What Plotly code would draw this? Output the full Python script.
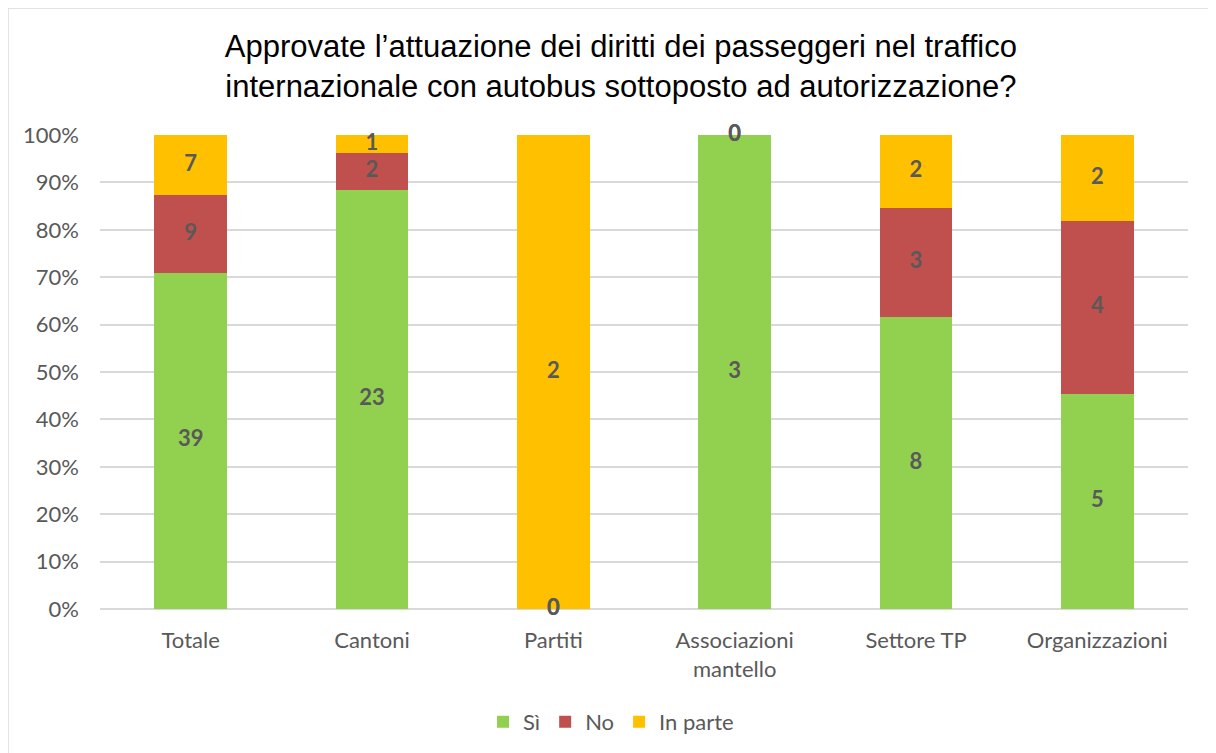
import plotly.graph_objects as go

categories = ["Totale", "Cantoni", "Partiti", "Associazioni<br>mantello", "Settore TP", "Organizzazioni"]
si = [39, 23, 0, 3, 8, 5]
no = [9, 2, 0, 0, 3, 4]
in_parte = [7, 1, 2, 0, 2, 2]
series_names = ["Sì", "No", "In parte"]
colors = ["#92D050", "#C0504D", "#FFC000"]
tick_vals = [0, 10, 20, 30, 40, 50, 60, 70, 80, 90, 100]
tick_text = [f"{v}%" for v in tick_vals]

totals = [a + b + c for a, b, c in zip(si, no, in_parte)]
series = [si, no, in_parte]
pct = [[v / t * 100 for v, t in zip(s, totals)] for s in series]

fig = go.Figure()
for name, p, col in zip(series_names, pct, colors):
    fig.add_trace(go.Bar(x=categories, y=p, name=name, marker_color=col,
                         marker_line_width=0))

# labels at segment centres
base = [0] * len(categories)
for s, p in zip(series, pct):
    mids = [b + v / 2 for b, v in zip(base, p)]
    fig.add_trace(go.Scatter(x=categories, y=mids, mode="text",
                             text=[str(v) for v in s], showlegend=False,
                             textfont=dict(family="Lato, Open Sans, sans-serif",
                                           size=22, color="#595959", weight="bold"),
                             hoverinfo="skip", cliponaxis=False))
    base = [b + v for b, v in zip(base, p)]

fig.update_layout(
    barmode="stack",
    bargap=0.6,
    width=1216, height=753,
    margin=dict(l=92, r=36, t=127, b=152, autoexpand=False),
    paper_bgcolor="white", plot_bgcolor="white",
    title=dict(text="Approvate l’attuazione dei diritti dei passeggeri nel traffico<br>internazionale con autobus sottoposto ad autorizzazione?",
               x=0.504, xanchor="center", y=0.935, yanchor="top",
               font=dict(family="Liberation Sans, Arial, sans-serif", size=31, color="#000000")),
    font=dict(family="Lato, Open Sans, sans-serif", size=22, color="#595959"),
    legend=dict(orientation="h", x=0.4697, xanchor="center", y=-0.194, yanchor="top",
                font=dict(size=22, color="#595959"), traceorder="normal",
                itemwidth=30),
    showlegend=True,
)
fig.update_yaxes(range=[0, 100], tickvals=tick_vals, ticktext=tick_text,
                 showgrid=True, gridcolor="#D9D9D9", gridwidth=1.5,
                 zeroline=True, zerolinecolor="#D9D9D9", zerolinewidth=1.5,
                 showline=False, ticks="", ticklabelstandoff=20, automargin=False,
                 tickfont=dict(size=22, color="#595959"))
fig.update_xaxes(showline=False, ticks="", showgrid=False, automargin=False,
                 ticklabelstandoff=16,
                 tickfont=dict(size=22, color="#595959"))
fig.add_shape(type="rect", xref="paper", yref="paper",
              x0=-0.0846, x1=1.0202, y0=-0.31, y1=1.268,
              line=dict(color="#D9D9D9", width=1.5), fillcolor="rgba(0,0,0,0)", layer="below")

fig.write_html("out.html")
